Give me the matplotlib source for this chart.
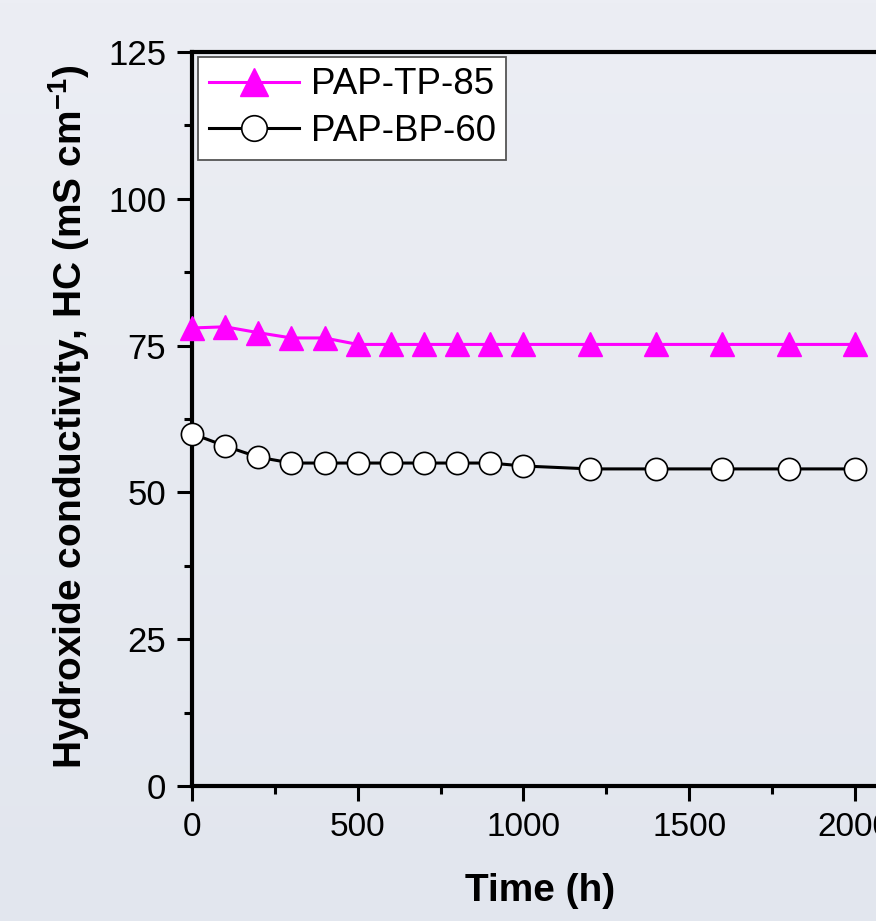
import matplotlib
matplotlib.use("Agg")
import numpy as np
import matplotlib.pyplot as plt
from matplotlib.ticker import MultipleLocator
from matplotlib.colors import LinearSegmentedColormap

plt.rcParams['font.family'] = ['Liberation Sans', 'DejaVu Sans']
plt.rcParams['mathtext.fontset'] = 'custom'
plt.rcParams['mathtext.rm'] = 'Liberation Sans'
plt.rcParams['mathtext.bf'] = 'Liberation Sans:bold'

time_h = [0, 100, 200, 300, 400, 500, 600, 700, 800, 900, 1000, 1200, 1400, 1600, 1800, 2000]
tp85 = [78, 78.2, 77.2, 76.3, 76.3, 75.2, 75.2, 75.2, 75.2, 75.2, 75.2, 75.2, 75.2, 75.2, 75.2, 75.2]
bp60 = [60, 57.9, 56, 55, 55, 55, 55, 55, 55, 55, 54.5, 54, 54, 54, 54, 54]
series_labels = ["PAP-TP-85", "PAP-BP-60"]
xticks = [0, 500, 1000, 1500, 2000]
yticks = [0, 25, 50, 75, 100, 125]

W, H = 876, 921
fig = plt.figure(figsize=(W/100, H/100), dpi=100, facecolor='#e8ebf2')

# background gradient
bgax = fig.add_axes([0, 0, 1, 1], zorder=-10)
cmap = LinearSegmentedColormap.from_list('bg', ['#e2e6ee', '#eceef4'])
bgax.imshow(np.linspace(0, 1, 256).reshape(-1, 1), aspect='auto', cmap=cmap,
            origin='lower', extent=[0, 1, 0, 1])
bgax.axis('off')

ax = fig.add_axes([192/W, 135/H, 696/W, 734/H])
ax.set_facecolor('none')

ax.plot(time_h, tp85, color='#ff00ff', lw=2.2, marker='^', ms=17,
        markerfacecolor='#ff00ff', markeredgecolor='#ff00ff', label=series_labels[0],
        clip_on=False, zorder=3)
ax.plot(time_h, bp60, color='black', lw=2.2, marker='o', ms=16,
        markerfacecolor='white', markeredgecolor='black', markeredgewidth=1.2,
        label=series_labels[1], clip_on=False, zorder=3)

ax.set_xlim(0, 2100)
ax.set_ylim(0, 125)
ax.set_xticks(xticks)
ax.set_yticks(yticks)
ax.xaxis.set_minor_locator(MultipleLocator(250))
ax.yaxis.set_minor_locator(MultipleLocator(12.5))

for s in ['left', 'bottom', 'top', 'right']:
    ax.spines[s].set_linewidth(3)
ax.tick_params(axis='both', which='major', direction='out', length=10.5, width=2.2,
               labelsize=25, pad=8)
ax.tick_params(axis='both', which='minor', direction='out', length=5.8, width=2.2)
ax.tick_params(axis='x', which='major', labelsize=24, pad=8)

ax.set_xlabel('Time (h)', fontsize=28, fontweight='bold')
ax.xaxis.set_label_coords(0.5, -0.118)
ax.set_ylabel(r'Hydroxide conductivity, HC (mS cm$^{\mathbf{-1}}$)', fontsize=28,
              fontweight='bold')
ax.yaxis.set_label_coords(-0.144, 0.503)

leg = ax.legend(loc='upper left', bbox_to_anchor=(0.009, 0.993), fontsize=26.5,
                frameon=True, fancybox=False, edgecolor='#555555', facecolor='white',
                framealpha=1, handlelength=2.45, handletextpad=0.32, borderpad=0.28,
                labelspacing=0.32, borderaxespad=0.0, markerscale=1.15)
leg.get_frame().set_linewidth(1.3)

fig.savefig('out.png', dpi=100)
